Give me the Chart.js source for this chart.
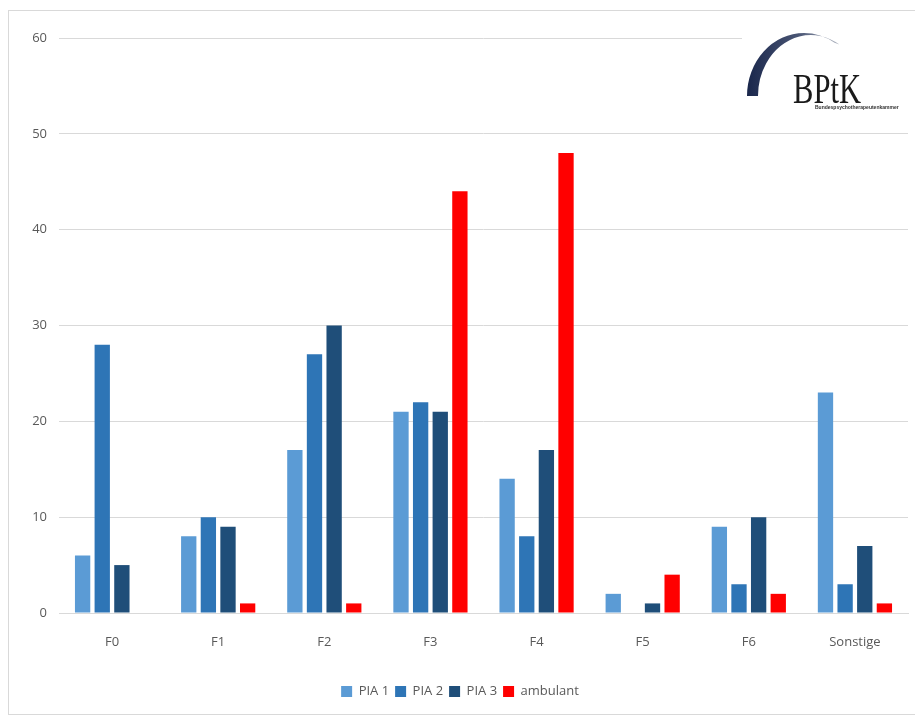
<!DOCTYPE html>
<html>
<head>
<meta charset="utf-8">
<script src="https://cdn.jsdelivr.net/npm/chart.js@4.4.1/dist/chart.umd.min.js"></script>
<style>
  body { margin: 0; background: #fff; }
  #wrap { position: relative; width: 915px; height: 722px; }
  #frame { position: absolute; left: 8px; top: 10px; width: 920px; height: 705px; border: 1px solid #d9d9d9; box-sizing: border-box; pointer-events: none; }
</style>
</head>
<body>
<div id="wrap">
  <canvas id="myChart" width="915" height="722"></canvas>
  <div id="frame"></div>
</div>
<script>
var categories = ['F0', 'F1', 'F2', 'F3', 'F4', 'F5', 'F6', 'Sonstige'];
var pia1 = [6, 8, 17, 21, 14, 2, 9, 23];
var pia2 = [28, 10, 27, 22, 8, 0, 3, 3];
var pia3 = [5, 9, 30, 21, 17, 1, 10, 7];
var ambulant = [0, 1, 1, 44, 48, 4, 2, 1];
var yTicks = [0, 10, 20, 30, 40, 50, 60];

// BPtK logo, top right
var logoPlugin = {
    id: 'logo',
    afterDatasetsDraw: function(chart) {
        var c = chart.ctx;
        c.save();
        c.fillStyle = '#fff';
        c.fillRect(742, 22, 173, 92);
        // arc (crescent)
        c.beginPath();
        c.ellipse(804, 96, 57, 63, 0, Math.PI * 1.0, Math.PI * 1.68, false);
        c.ellipse(811, 96, 53, 61, 0, Math.PI * 1.68, Math.PI * 1.0, true);
        c.closePath();
        var g = c.createLinearGradient(745, 0, 835, 0);
        g.addColorStop(0, '#18254a');
        g.addColorStop(0.6, '#4a5675');
        g.addColorStop(1, '#a8aebb');
        c.fillStyle = g;
        c.fill();
        c.fillStyle = '#1a1a1a';
        c.save();
        c.translate(793, 92);
        c.scale(0.85, 1.15);
        c.font = '36px "Liberation Serif", serif';
        c.fillText('BPtK', 0, 0);
        c.restore();
        c.font = 'bold 5px "Liberation Sans", sans-serif';
        c.fillStyle = '#333';
        c.fillText('Bundespsychotherapeutenkammer', 815, 108);
        c.restore();
    }
};

var ctx = document.getElementById('myChart');
var myChart = new Chart(ctx, {
    type: 'bar',
    data: {
        labels: categories,
        datasets: [
            { label: 'PIA 1', data: pia1, backgroundColor: '#5b9bd5' },
            { label: 'PIA 2', data: pia2, backgroundColor: '#2e75b6' },
            { label: 'PIA 3', data: pia3, backgroundColor: '#1f4e79' },
            { label: 'ambulant', data: ambulant, backgroundColor: '#ff0000' }
        ]
    },
    options: {
        responsive: false,
        animation: false,
        datasets: { bar: { categoryPercentage: 0.74, barPercentage: 0.78 } },
        layout: { padding: { left: 12, right: 7, top: 38, bottom: 14 } },
        scales: {
            x: {
                grid: { display: false },
                border: { color: '#d9d9d9' },
                ticks: { color: '#595959', font: { size: 13, family: 'Open Sans' }, padding: 13 },
                afterFit: function(s) { s.height = 66; }
            },
            y: {
                min: 0, max: 60,
                afterBuildTicks: function(s) { s.ticks = yTicks.map(function(v) { return { value: v }; }); },
                grid: { color: '#d9d9d9', drawTicks: false },
                border: { display: false },
                ticks: { color: '#595959', font: { size: 13, family: 'Open Sans' }, padding: 12 },
                afterFit: function(s) { s.width = 47; }
            }
        },
        plugins: {
            tooltip: { enabled: false },
            legend: {
                position: 'bottom',
                labels: { boxWidth: 11, boxHeight: 11, color: '#595959', font: { size: 13, family: 'Open Sans' }, padding: 6 }
            }
        }
    },
    plugins: [logoPlugin]
});
</script>
</body>
</html>
